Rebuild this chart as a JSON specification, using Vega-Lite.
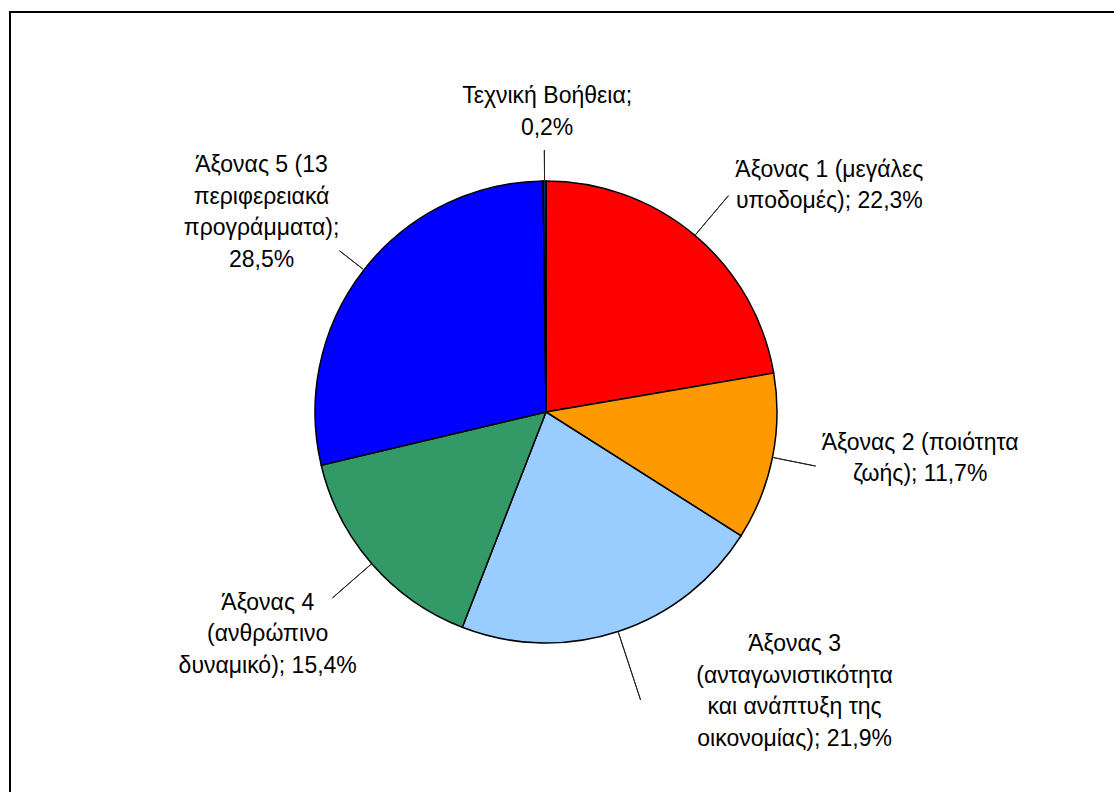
{
  "$schema": "https://vega.github.io/schema/vega-lite/v6.json",
  "width": 1106,
  "height": 782,
  "autosize": {"type": "none"},
  "padding": {"left": 10, "top": 12, "right": 0, "bottom": 0},
  "background": "white",
  "config": {
    "view": {"stroke": "black", "strokeWidth": 2},
    "text": {"font": "Liberation Sans"}
  },
  "data": {
    "values": [
      {"name": "Άξονας 1 (μεγάλες υποδομές)", "value": 22.3, "label": "Άξονας 1 (μεγάλες\nυποδομές); 22,3%"},
      {"name": "Άξονας 2 (ποιότητα ζωής)", "value": 11.7, "label": "Άξονας 2 (ποιότητα\nζωής); 11,7%"},
      {"name": "Άξονας 3 (ανταγωνιστικότητα και ανάπτυξη της οικονομίας)", "value": 21.9, "label": "Άξονας 3\n(ανταγωνιστικότητα\nκαι ανάπτυξη της\nοικονομίας); 21,9%"},
      {"name": "Άξονας 4 (ανθρώπινο δυναμικό)", "value": 15.4, "label": "Άξονας 4\n(ανθρώπινο\nδυναμικό); 15,4%"},
      {"name": "Άξονας 5 (13 περιφερειακά προγράμματα)", "value": 28.5, "label": "Άξονας 5 (13\nπεριφερειακά\nπρογράμματα);\n28,5%"},
      {"name": "Τεχνική Βοήθεια", "value": 0.2, "label": "Τεχνική Βοήθεια;\n0,2%"}
    ]
  },
  "encoding": {
    "theta": {"field": "value", "type": "quantitative", "stack": true, "scale": {"domain": [0, 100]}},
    "x": {"datum": 0, "type": "quantitative", "scale": {"domain": [-536, 570], "nice": false, "zero": false}, "axis": null},
    "y": {"datum": 0, "type": "quantitative", "scale": {"domain": [-382, 400], "nice": false, "zero": false}, "axis": null},
    "order": {"field": "name", "sort": "ascending"}
  },
  "layer": [
    {
      "mark": {"type": "arc", "radius": 231, "stroke": "black", "strokeWidth": 1.5},
      "encoding": {
        "color": {
          "field": "name",
          "type": "nominal",
          "scale": {
            "domain": [
              "Άξονας 1 (μεγάλες υποδομές)",
              "Άξονας 2 (ποιότητα ζωής)",
              "Άξονας 3 (ανταγωνιστικότητα και ανάπτυξη της οικονομίας)",
              "Άξονας 4 (ανθρώπινο δυναμικό)",
              "Άξονας 5 (13 περιφερειακά προγράμματα)",
              "Τεχνική Βοήθεια"
            ],
            "range": ["#FF0000", "#FF9900", "#99CCFF", "#339966", "#0000FF", "#003366"]
          },
          "legend": null
        }
      }
    },
    {
      "mark": {"type": "arc", "radius": 262, "radius2": 232, "padAngle": 3.1416, "filled": false, "stroke": "#222222", "strokeWidth": 1},
      "encoding": {"strokeOpacity": {"condition": {"test": "datum.name === 'Τεχνική Βοήθεια' || datum.name === 'Άξονας 5 (13 περιφερειακά προγράμματα)'", "value": 1}, "value": 0}}
    },
    {
      "mark": {"type": "arc", "radius": 275, "radius2": 232, "padAngle": 3.1416, "filled": false, "stroke": "#222222", "strokeWidth": 1},
      "encoding": {"strokeOpacity": {"condition": {"test": "datum.name === 'Άξονας 2 (ποιότητα ζωής)'", "value": 1}, "value": 0}}
    },
    {
      "mark": {"type": "arc", "radius": 283, "radius2": 232, "padAngle": 3.1416, "filled": false, "stroke": "#222222", "strokeWidth": 1},
      "encoding": {"strokeOpacity": {"condition": {"test": "datum.name === 'Άξονας 1 (μεγάλες υποδομές)' || datum.name === 'Άξονας 4 (ανθρώπινο δυναμικό)'", "value": 1}, "value": 0}}
    },
    {
      "mark": {"type": "arc", "radius": 303, "radius2": 232, "padAngle": 3.1416, "filled": false, "stroke": "#222222", "strokeWidth": 1},
      "encoding": {"strokeOpacity": {"condition": {"test": "datum.name === 'Άξονας 3 (ανταγωνιστικότητα και ανάπτυξη της οικονομίας)'", "value": 1}, "value": 0}}
    },
    {
      "mark": {"type": "text", "radius": 300, "dx": 3, "dy": -16, "fontSize": 23, "lineHeight": 31.5, "lineBreak": "\n", "align": "center", "baseline": "middle", "color": "black"},
      "encoding": {"text": {"condition": {"test": "datum.name === 'Τεχνική Βοήθεια'", "field": "label"}, "value": ""}}
    },
    {
      "mark": {"type": "text", "radius": 300, "dx": 90, "dy": -13, "fontSize": 23, "lineHeight": 31.5, "lineBreak": "\n", "align": "center", "baseline": "middle", "color": "black"},
      "encoding": {"text": {"condition": {"test": "datum.name === 'Άξονας 1 (μεγάλες υποδομές)'", "field": "label"}, "value": ""}}
    },
    {
      "mark": {"type": "text", "radius": 300, "dx": 80, "dy": -28, "fontSize": 23, "lineHeight": 31.5, "lineBreak": "\n", "align": "center", "baseline": "middle", "color": "black"},
      "encoding": {"text": {"condition": {"test": "datum.name === 'Άξονας 2 (ποιότητα ζωής)'", "field": "label"}, "value": ""}}
    },
    {
      "mark": {"type": "text", "radius": 300, "dx": 155, "dy": -53, "fontSize": 23, "lineHeight": 31.5, "lineBreak": "\n", "align": "center", "baseline": "middle", "color": "black"},
      "encoding": {"text": {"condition": {"test": "datum.name === 'Άξονας 3 (ανταγωνιστικότητα και ανάπτυξη της οικονομίας)'", "field": "label"}, "value": ""}}
    },
    {
      "mark": {"type": "text", "radius": 300, "dx": -52, "dy": -6, "fontSize": 23, "lineHeight": 31.5, "lineBreak": "\n", "align": "center", "baseline": "middle", "color": "black"},
      "encoding": {"text": {"condition": {"test": "datum.name === 'Άξονας 4 (ανθρώπινο δυναμικό)'", "field": "label"}, "value": ""}}
    },
    {
      "mark": {"type": "text", "radius": 300, "dx": -48, "dy": -62, "fontSize": 23, "lineHeight": 31.5, "lineBreak": "\n", "align": "center", "baseline": "middle", "color": "black"},
      "encoding": {"text": {"condition": {"test": "datum.name === 'Άξονας 5 (13 περιφερειακά προγράμματα)'", "field": "label"}, "value": ""}}
    }
  ]
}
